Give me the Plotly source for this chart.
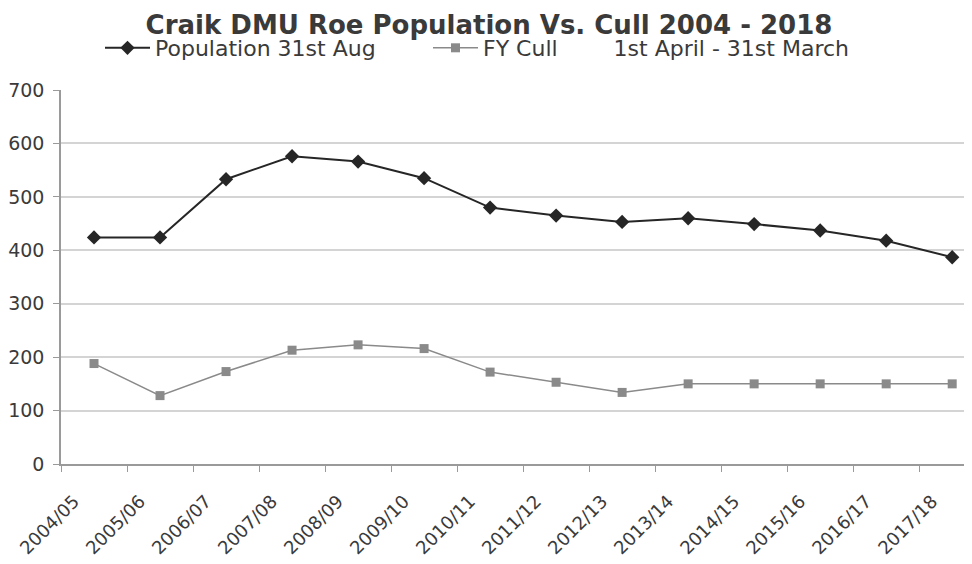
import plotly.graph_objects as go

years = ["2004/05", "2005/06", "2006/07", "2007/08", "2008/09", "2009/10", "2010/11",
         "2011/12", "2012/13", "2013/14", "2014/15", "2015/16", "2016/17", "2017/18"]
population = [424, 424, 533, 576, 566, 535, 480, 465, 453, 460, 449, 437, 418, 387]
cull = [188, 128, 173, 213, 223, 216, 172, 153, 134, 150, 150, 150, 150, 150]

FONT = "DejaVu Sans"
NB = "\u00a0"
W, H = 964, 556  # page body adds an 8px offset

fig = go.Figure()
fig.add_trace(go.Scatter(
    x=years, y=population, name="Population 31st Aug", mode="lines+markers",
    line=dict(color="#262626", width=2),
    marker=dict(symbol="diamond", size=11, color="#262626"),
    legend="legend",
))
fig.add_trace(go.Scatter(
    x=years, y=cull, name="FY Cull" + NB * 8 + "1st April - 31st March", mode="lines+markers",
    line=dict(color="#8a8a8a", width=1.5),
    marker=dict(symbol="square", size=9, color="#8a8a8a"),
    legend="legend2",
))

leg_common = dict(orientation="h", xanchor="left", yanchor="middle",
                  xref="container", yref="container", itemwidth=45,
                  font=dict(size=22, family=FONT, color="#3a3a3a"),
                  bgcolor="rgba(0,0,0,0)")

fig.update_layout(
    width=W, height=H,
    paper_bgcolor="white", plot_bgcolor="white",
    margin=dict(l=53, r=0, t=82, b=100, autoexpand=False),
    font=dict(family=FONT, color="#3a3a3a"),
    title=dict(text="<b>Craik DMU Roe Population Vs. Cull 2004 - 2018</b>",
               x=481 / W, xanchor="center", xref="container",
               y=1 - 17 / H, yanchor="middle", yref="container",
               font=dict(size=26, family=FONT, color="#3a3a3a")),
    legend=dict(x=92 / W, y=1 - 40 / H, **leg_common),
    legend2=dict(x=420 / W, y=1 - 40 / H, **leg_common),
    showlegend=True,
)
fig.update_xaxes(
    type="category", range=[-0.5, 13.3], tickson="boundaries", automargin=False,
    ticks="outside", ticklen=6, tickcolor="#9a9a9a", tickangle=-45,
    ticklabelstandoff=18, ticklabelshift=-20,
    showline=True, linecolor="#9a9a9a", linewidth=1.5, showgrid=False,
    tickfont=dict(size=18, family=FONT, color="#3a3a3a"),
)
fig.update_yaxes(
    range=[0, 700], dtick=100, ticks="outside", ticklen=6, tickcolor="#9a9a9a",
    automargin=False, ticklabelstandoff=5,
    showline=True, linecolor="#9a9a9a", linewidth=1.5,
    showgrid=True, gridcolor="#d4d4d4", gridwidth=1.5, zeroline=False,
    tickfont=dict(size=19, family=FONT, color="#3a3a3a"),
)

fig.write_html("out.html")
